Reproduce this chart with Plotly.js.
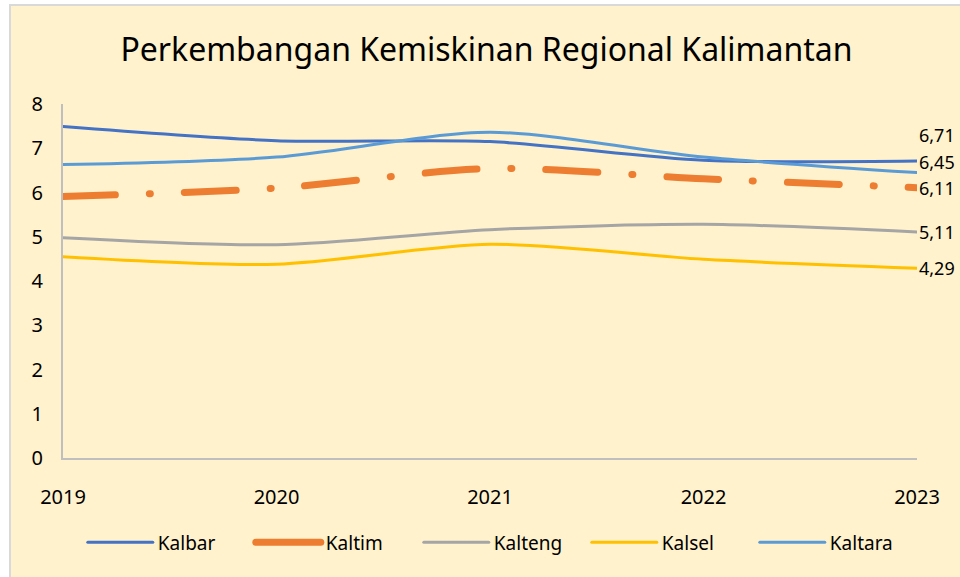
<!DOCTYPE html>
<html><head><meta charset="utf-8">
<script src="https://cdn.plot.ly/plotly-3.0.1.min.js"></script>
<style>
html,body{margin:0;padding:0;background:#ffffff;overflow:hidden;}
#chart{position:absolute;left:9px;top:4px;width:951px;height:573px;border-top:2px solid #d9d9d9;border-left:2px solid #d9d9d9;}
.scatterlayer path.js-line{stroke-linecap:round;}
.legend .traces path{stroke-linecap:round;}
.legend .traces:nth-child(2) path{stroke-dasharray:none !important;}
</style>
</head><body>
<div id="chart"></div>
<script>
const years = [2019, 2020, 2021, 2022, 2023];
const seriesNames = ["Kalbar", "Kaltim", "Kalteng", "Kalsel", "Kaltara"];
const kalbar  = [7.49, 7.17, 7.15, 6.73, 6.71];
const kaltim  = [5.91, 6.10, 6.54, 6.31, 6.11];
const kalteng = [4.98, 4.82, 5.16, 5.28, 5.11];
const kalsel  = [4.55, 4.38, 4.83, 4.49, 4.29];
const kaltara = [6.63, 6.80, 7.36, 6.80, 6.45];
const endLabels = ["6,71", "6,11", "5,11", "4,29", "6,45"];
const labelShift = [26, 0, 0, 0, 11];

const colors = ["#4472C4", "#ED7D31", "#A5A5A5", "#FFC000", "#5B9BD5"];
const widths = [3, 7, 3, 3, 3];
const dashes = ["solid", "52px,34px,1px,34px", "solid", "solid", "solid"];
const values = [kalbar, kaltim, kalteng, kalsel, kaltara];
const font = "Noto Sans, Open Sans, sans-serif";

const traces = values.map((v, i) => ({
  type: "scatter", mode: "lines", name: seriesNames[i], x: years, y: v,
  line: {color: colors[i], width: widths[i], dash: dashes[i], shape: "spline", smoothing: 0.8},
  hoverinfo: "skip"
}));

const annotations = values.map((v, i) => ({
  x: years[years.length - 1], y: v[v.length - 1], xref: "x", yref: "y",
  text: endLabels[i], showarrow: false, xanchor: "left", yanchor: "middle",
  xshift: 0, yshift: labelShift[i], font: {family: font, size: 18, color: "#000000"}
}));

const layout = {
  width: 951, height: 573,
  paper_bgcolor: "#FFF2CC", plot_bgcolor: "#FFF2CC",
  margin: {l: 52, r: 45, t: 98, b: 121},
  title: {text: "Perkembangan Kemiskinan Regional Kalimantan", font: {family: font, size: 32, color: "#000000"},
          x: 0.5, xanchor: "center", y: 1, yref: "container", yanchor: "top", pad: {t: 33}},
  showlegend: true,
  legend: {orientation: "h", x: 0.515, xanchor: "center", y: -0.185, yanchor: "top",
           font: {family: font, size: 19, color: "#000000"}, itemwidth: 65, bgcolor: "rgba(0,0,0,0)",
           traceorder: "normal", entrywidth: 88, entrywidthmode: "pixels"},
  xaxis: {range: [2019, 2023], tickvals: years, ticktext: years.map(String), showgrid: false, zeroline: false,
          showline: true, linecolor: "#BFBFBF", linewidth: 2, ticks: "outside", ticklen: 20, tickcolor: "rgba(0,0,0,0)",
          tickfont: {family: font, size: 20, color: "#000000"}, fixedrange: true},
  yaxis: {range: [0, 8], dtick: 1, showgrid: false, zeroline: false, showline: true, linecolor: "#BFBFBF", linewidth: 2,
          ticks: "outside", ticklen: 14, tickcolor: "rgba(0,0,0,0)",
          tickfont: {family: font, size: 20, color: "#000000"}, fixedrange: true},
  annotations: annotations
};

Plotly.newPlot("chart", traces, layout, {displayModeBar: false, staticPlot: true});
</script>
</body></html>
